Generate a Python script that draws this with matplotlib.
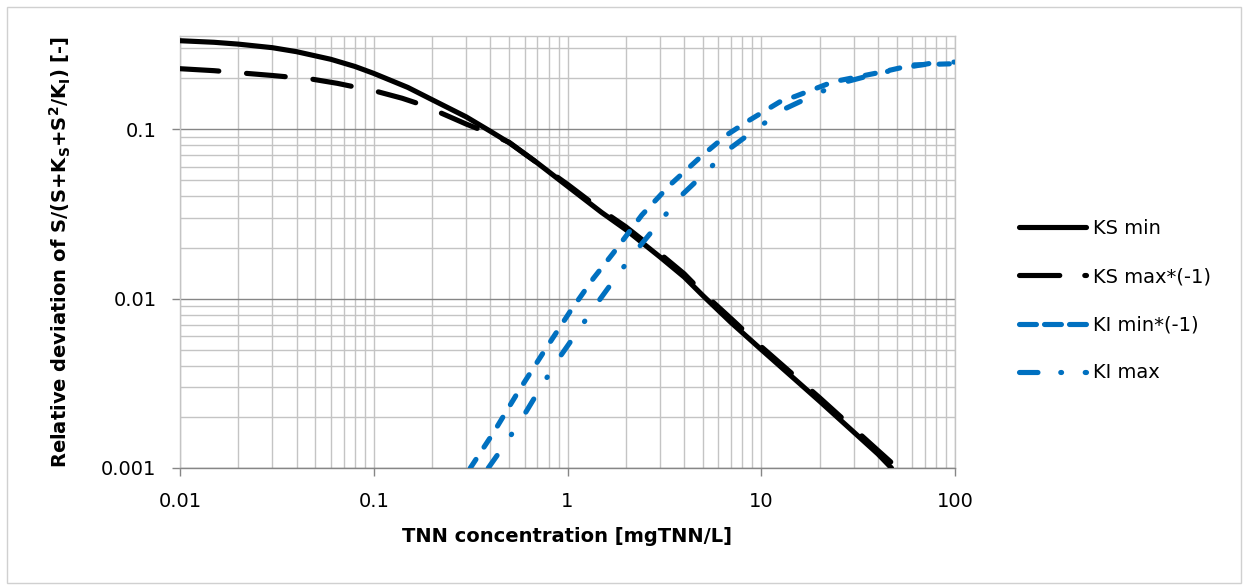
import matplotlib
matplotlib.use('Agg')
import matplotlib.pyplot as plt
from matplotlib.lines import Line2D
from matplotlib.patches import Rectangle
from matplotlib.ticker import LogLocator, FixedLocator, FixedFormatter, NullFormatter

# ---------------- data ----------------
ks_min_x = [0.01, 0.015, 0.02, 0.03, 0.04, 0.06, 0.08, 0.1, 0.15, 0.2, 0.3, 0.4, 0.5, 0.7, 1, 1.5,
            2, 3, 4, 5, 7, 10, 20, 30, 40, 47]
ks_min_y = [0.332, 0.325, 0.317, 0.302, 0.286, 0.258, 0.234, 0.213, 0.176, 0.149, 0.118, 0.097,
            0.083, 0.063, 0.046, 0.0322, 0.0255, 0.0176, 0.0134, 0.0104, 0.0072, 0.0050, 0.00248,
            0.00163, 0.00121, 0.00100]

ks_max_x = [0.01, 0.015, 0.02, 0.03, 0.048, 0.065, 0.082, 0.105, 0.14, 0.174, 0.22, 0.3, 0.36, 0.5,
            0.7, 1, 1.5, 2, 3, 4, 5, 7, 10, 20, 30, 40, 50]
ks_max_y = [0.227, 0.221, 0.215, 0.207, 0.197, 0.186, 0.176, 0.166, 0.152, 0.140, 0.125, 0.107,
            0.0985, 0.0835, 0.063, 0.0472, 0.0332, 0.0265, 0.0184, 0.0140, 0.0108, 0.0076, 0.0052,
            0.0026, 0.00171, 0.00127, 0.00101]

ki_min_x = [0.315, 0.414, 0.557, 0.765, 1.03, 1.36, 1.72, 2.42, 3.38, 4.9, 6.63, 8.6, 12.5, 15,
            23.5, 42.7, 60.9, 100]
ki_min_y = [0.001, 0.00161, 0.00282, 0.00497, 0.00836, 0.01315, 0.0185, 0.0311, 0.0468, 0.069,
            0.0922, 0.112, 0.145, 0.156, 0.190, 0.218, 0.239, 0.243]

ki_max_x = [0.39, 0.486, 0.604, 0.741, 0.915, 1.15, 1.44, 1.83, 2.27, 3.0, 3.81, 5.16, 6.9, 9.4,
            13.3, 18.8, 25.5, 40, 58.6, 88, 100]
ki_max_y = [0.001, 0.00143, 0.0021, 0.00309, 0.00454, 0.0066, 0.00957, 0.01396, 0.0193, 0.0284,
            0.0399, 0.0555, 0.0769, 0.100, 0.132, 0.159, 0.186, 0.213, 0.233, 0.252, 0.248]

series_labels = ['KS min', 'KS max*(-1)', 'KI min*(-1)', 'KI max']
x_ticks = [0.01, 0.1, 1, 10, 100]
x_tick_labels = ['0.01', '0.1', '1', '10', '100']
y_ticks = [0.001, 0.01, 0.1]
y_tick_labels = ['0.001', '0.01', '0.1']
x_label = 'TNN concentration [mgTNN/L]'
y_label = r'Relative deviation of S/(S+K$_\mathbf{S}$+S$^\mathbf{2}$/K$_\mathbf{I}$) [-]'

# ---------------- style ----------------
plt.rcParams['font.family'] = ['DejaVu Sans']
plt.rcParams['mathtext.fontset'] = 'dejavusans'
plt.rcParams['lines.scale_dashes'] = False

BLACK = '#000000'
BLUE = '#0070C0'
LW = 3.7

W, H = 1248, 588
fig = plt.figure(figsize=(W / 100, H / 100), dpi=100)
ax = fig.add_axes([180 / W, 1 - 468 / H, (955 - 180) / W, (468 - 36) / H])

common = dict(lw=LW, solid_capstyle='round', dash_capstyle='round',
              solid_joinstyle='round', dash_joinstyle='round')
ax.plot(ks_min_x, ks_min_y, color=BLACK, zorder=3, **common)
ax.plot(ks_max_x, ks_max_y, color=BLACK, dashes=(28.0, 20.0), zorder=3, **common)
ax.plot(ki_min_x, ki_min_y, color=BLUE, dashes=(7.4, 10.6), zorder=4, **common)
ax.plot(ki_max_x, ki_max_y, color=BLUE, dashes=(11.0, 18.2, 0.4, 18.9), zorder=4, **common)

ax.set_xscale('log')
ax.set_yscale('log')
ax.set_xlim(0.01, 100)
ax.set_ylim(0.001, 0.354)

ax.xaxis.set_major_locator(FixedLocator(x_ticks))
ax.xaxis.set_major_formatter(FixedFormatter(x_tick_labels))
ax.yaxis.set_major_locator(FixedLocator(y_ticks))
ax.yaxis.set_major_formatter(FixedFormatter(y_tick_labels))
ax.xaxis.set_minor_locator(LogLocator(base=10, subs=range(2, 10), numticks=20))
ax.yaxis.set_minor_locator(LogLocator(base=10, subs=range(2, 10), numticks=20))
ax.xaxis.set_minor_formatter(NullFormatter())
ax.yaxis.set_minor_formatter(NullFormatter())

ax.tick_params(which='major', direction='out', length=6, width=1, color='#868686',
               labelsize=14, labelcolor='black', pad=11)
ax.tick_params(which='minor', length=0)

ax.grid(which='minor', color='#C4C4C4', lw=1.0, zorder=0)
ax.grid(which='major', axis='x', color='#C4C4C4', lw=1.0, zorder=0)
ax.grid(which='major', axis='y', color='#868686', lw=1.0, zorder=0)
ax.set_axisbelow(True)

for s in ['top', 'right', 'left']:
    ax.spines[s].set_color('#C4C4C4')
    ax.spines[s].set_linewidth(1.0)
ax.spines['bottom'].set_color('#868686')
ax.spines['bottom'].set_linewidth(1.0)

ax.set_xlabel(x_label, fontsize=14, fontweight='bold', labelpad=12)
ax.set_ylabel(y_label, fontsize=14, fontweight='bold', labelpad=20)

# legend with proxy handles
handles = [
    Line2D([], [], color=BLACK, lw=LW, solid_capstyle='round'),
    Line2D([], [], color=BLACK, lw=LW, dashes=(29.0, 18.0), dash_capstyle='round'),
    Line2D([], [], color=BLUE, lw=LW, dashes=(12.2, 5.8), dash_capstyle='round'),
    Line2D([], [], color=BLUE, lw=LW, dashes=(13.3, 16.4, 0.6, 17.0), dash_capstyle='round'),
]
fig.legend(handles, series_labels, loc='upper left',
           bbox_to_anchor=(1019 / W, 1 - 219 / H), bbox_transform=fig.transFigure,
           frameon=False, fontsize=14, handlelength=3.44, handletextpad=0.35,
           labelspacing=1.5, borderpad=0, borderaxespad=0)

fig.patches.append(Rectangle((7 / W, 5 / H), (1241 - 7) / W, (581 - 5) / H,
                             transform=fig.transFigure, fill=False,
                             edgecolor='#D0D0D0', lw=1.0))

fig.savefig('out.png', dpi=100)
